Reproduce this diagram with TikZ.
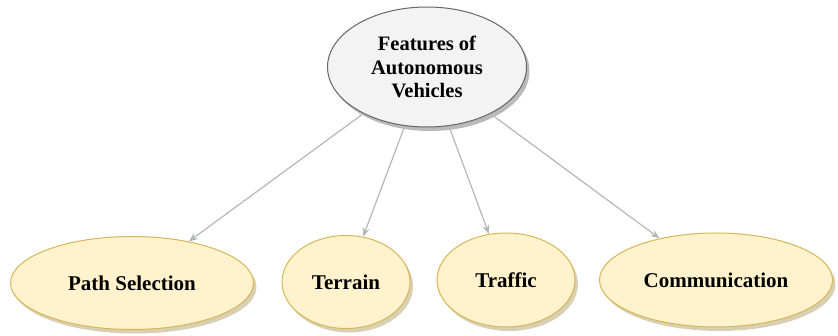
\documentclass[tikz,border=0pt]{standalone}
\usepackage{fontspec}
\setmainfont{Liberation Serif}
\usetikzlibrary{arrows.meta,shapes.geometric,shadows}

\definecolor{featfill}{HTML}{FFF2CC}
\definecolor{featline}{HTML}{D6B656}
\definecolor{topfill}{HTML}{F3F3F3}
\definecolor{topline}{HTML}{666666}
\definecolor{linkgray}{HTML}{B4B6B8}

\begin{document}
\begin{tikzpicture}[x=1pt, y=-1pt, >={Stealth[length=9pt,width=7pt]},
  topnode/.style={ellipse, draw=topline, fill=topfill, line width=1pt,
    inner sep=0pt, align=center, font=\fontsize{20.5}{23.5}\selectfont\bfseries,
    drop shadow={shadow xshift=3pt, shadow yshift=-4pt, fill=black!45, opacity=0.6}},
  featnode/.style={ellipse, draw=featline, fill=featfill, line width=1pt,
    inner sep=0pt, font=\fontsize{21}{24}\selectfont\bfseries,
    drop shadow={shadow xshift=3pt, shadow yshift=-4pt, fill=featline!60!gray, opacity=0.5}},
  link/.style={->, draw=linkgray, line width=1.2pt}]

\useasboundingbox (0,0) rectangle (838,336);

% top of the tree
\node[topnode, minimum width=199pt, minimum height=120pt] (feat) at (427,67)
  {Features of\\Autonomous\\Vehicles};

% the four features
\node[featnode, minimum width=243pt, minimum height=93pt] (path) at (132,283) {Path Selection};
\node[featnode, minimum width=128pt, minimum height=93pt] (terr) at (346,282) {Terrain};
\node[featnode, minimum width=138pt, minimum height=94pt] (traf) at (506,280) {Traffic};
\node[featnode, minimum width=233pt, minimum height=94pt] (comm) at (716,280) {Communication};

\draw[link] (feat) -- (path);
\draw[link] (feat) -- (terr);
\draw[link] (feat) -- (traf);
\draw[link] (feat) -- (comm);

\end{tikzpicture}
\end{document}
